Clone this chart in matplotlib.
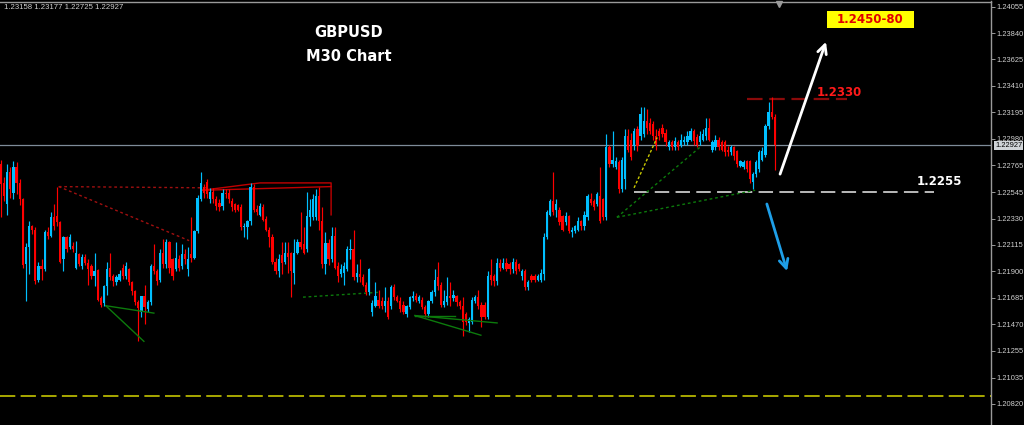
import numpy as np
import matplotlib.pyplot as plt
from matplotlib.patches import Rectangle
from matplotlib.transforms import blended_transform_factory

# === GBPUSD M30 candles ===
opens = [
    1.2277, 1.2262, 1.2245, 1.2271, 1.2254, 1.2275, 1.2262, 1.2249, 1.2196, 1.2210,
    1.2227, 1.2224, 1.2183, 1.2194, 1.2192, 1.2222, 1.2219, 1.2234, 1.2235, 1.2230,
    1.2200, 1.2218, 1.2210, 1.2211, 1.2193, 1.2204, 1.2194, 1.2202, 1.2197, 1.2194,
    1.2186, 1.2191, 1.2168, 1.2164, 1.2178, 1.2193, 1.2186, 1.2181, 1.2183, 1.2193,
    1.2186, 1.2192, 1.2181, 1.2174, 1.2165, 1.2157, 1.2170, 1.2159, 1.2165, 1.2194,
    1.2190, 1.2183, 1.2205, 1.2196, 1.2214, 1.2200, 1.2192, 1.2200, 1.2194, 1.2204,
    1.2192, 1.2204, 1.2201, 1.2223, 1.2249, 1.2259, 1.2263, 1.2249, 1.2255, 1.2249,
    1.2246, 1.2243, 1.2254, 1.2254, 1.2247, 1.2245, 1.2244, 1.2242, 1.2226, 1.2226,
    1.2231, 1.2259, 1.2241, 1.2236, 1.2242, 1.2233, 1.2224, 1.2218, 1.2198, 1.2190,
    1.2203, 1.2198, 1.2205, 1.2205, 1.2189, 1.2205, 1.2214, 1.2212, 1.2208, 1.2234,
    1.2234, 1.2234, 1.2251, 1.2231, 1.2196, 1.2213, 1.2200, 1.2219, 1.2194, 1.2188,
    1.2189, 1.2192, 1.2207, 1.2208, 1.2185, 1.2188, 1.2185, 1.2179, 1.2173, 1.2157,
    1.2162, 1.2167, 1.2166, 1.2162, 1.2166, 1.2162, 1.2177, 1.2169, 1.2166, 1.2163,
    1.2155, 1.2161, 1.2168, 1.2170, 1.2166, 1.2167, 1.2161, 1.2155, 1.2166, 1.2173,
    1.2185, 1.2179, 1.2163, 1.2165, 1.2170, 1.2168, 1.2170, 1.2165, 1.2162, 1.2155,
    1.2148, 1.2149, 1.2166, 1.2169, 1.2163, 1.2163, 1.2153, 1.2187, 1.2186, 1.2182,
    1.2197, 1.2193, 1.2197, 1.2196, 1.2192, 1.2198, 1.2196, 1.2186, 1.2190, 1.2177,
    1.2186, 1.2186, 1.2183, 1.2183, 1.2188, 1.2218, 1.2236, 1.2247, 1.2240, 1.2240,
    1.2235, 1.2230, 1.2235, 1.2222, 1.2223, 1.2224, 1.2231, 1.2227, 1.2234, 1.2249,
    1.2247, 1.2245, 1.2251, 1.2249, 1.2234, 1.2291, 1.2277, 1.2275, 1.2279, 1.2257,
    1.2265, 1.2300, 1.2297, 1.2292, 1.2306, 1.2300, 1.2302, 1.2312, 1.2311, 1.2310,
    1.2300, 1.2304, 1.2307, 1.2303, 1.2291, 1.2295, 1.2291, 1.2295, 1.2293, 1.2295,
    1.2295, 1.2297, 1.2304, 1.2299, 1.2295, 1.2297, 1.2300, 1.2307, 1.2289, 1.2291,
    1.2297, 1.2295, 1.2295, 1.2289, 1.2287, 1.2291, 1.2288, 1.2276, 1.2275, 1.2280,
    1.2280, 1.2263, 1.2269, 1.2273, 1.2281, 1.2285, 1.2308, 1.2320, 1.23158,
]
highs = [
    1.2281, 1.2267, 1.2277, 1.2275, 1.2280, 1.2279, 1.2265, 1.2250, 1.2213, 1.2231,
    1.2228, 1.2226, 1.2198, 1.2200, 1.2224, 1.2226, 1.2238, 1.2245, 1.2259, 1.2231,
    1.2219, 1.2219, 1.2220, 1.2214, 1.2215, 1.2205, 1.2204, 1.2204, 1.2200, 1.2196,
    1.2205, 1.2192, 1.2170, 1.2179, 1.2198, 1.2205, 1.2188, 1.2187, 1.2191, 1.2196,
    1.2198, 1.2193, 1.2182, 1.2175, 1.2167, 1.2170, 1.2179, 1.2167, 1.2196, 1.2212,
    1.2192, 1.2208, 1.2216, 1.2216, 1.2215, 1.2201, 1.2214, 1.2203, 1.2212, 1.2208,
    1.2210, 1.2234, 1.2224, 1.2252, 1.2271, 1.2261, 1.2265, 1.2258, 1.2258, 1.2251,
    1.2249, 1.2257, 1.2257, 1.2257, 1.2250, 1.2246, 1.2245, 1.2245, 1.2229, 1.2232,
    1.2262, 1.2261, 1.2244, 1.2246, 1.2245, 1.2235, 1.2226, 1.2220, 1.2201, 1.2204,
    1.2214, 1.2214, 1.2214, 1.2206, 1.2216, 1.2216, 1.2238, 1.2226, 1.2255, 1.2249,
    1.2253, 1.2257, 1.2259, 1.2242, 1.2222, 1.2216, 1.2226, 1.2226, 1.2198, 1.2196,
    1.2198, 1.2211, 1.2216, 1.2224, 1.2196, 1.2200, 1.2188, 1.2181, 1.2193, 1.2167,
    1.2181, 1.2175, 1.2169, 1.2177, 1.2169, 1.2179, 1.2180, 1.2171, 1.2169, 1.2166,
    1.2163, 1.2170, 1.2174, 1.2172, 1.2171, 1.2169, 1.2163, 1.2167, 1.2175, 1.2192,
    1.2198, 1.2181, 1.2175, 1.2185, 1.2181, 1.2175, 1.2171, 1.2167, 1.2169, 1.2157,
    1.2153, 1.2169, 1.2171, 1.2175, 1.2165, 1.2165, 1.2190, 1.2200, 1.2188, 1.2201,
    1.2200, 1.2201, 1.2201, 1.2198, 1.2201, 1.2200, 1.2197, 1.2192, 1.2192, 1.2183,
    1.2188, 1.2188, 1.2188, 1.2192, 1.2221, 1.2240, 1.2249, 1.2271, 1.2249, 1.2242,
    1.2236, 1.2238, 1.2236, 1.2226, 1.2228, 1.2234, 1.2232, 1.2239, 1.2253, 1.2254,
    1.2249, 1.2255, 1.2275, 1.2250, 1.2302, 1.2293, 1.2304, 1.2283, 1.2281, 1.2283,
    1.2306, 1.2306, 1.2303, 1.2307, 1.2308, 1.2324, 1.2324, 1.2322, 1.2315, 1.2312,
    1.2306, 1.2307, 1.2310, 1.2306, 1.2297, 1.2297, 1.2299, 1.2297, 1.2302, 1.2300,
    1.2304, 1.2307, 1.2306, 1.2302, 1.2304, 1.2306, 1.2315, 1.2315, 1.2297, 1.2301,
    1.2299, 1.2297, 1.2297, 1.2292, 1.2293, 1.2292, 1.2289, 1.2281, 1.2281, 1.2281,
    1.2281, 1.2271, 1.2281, 1.2289, 1.2291, 1.2310, 1.2328, 1.2332, 1.23177,
]
lows = [
    1.2234, 1.2247, 1.2236, 1.2250, 1.2249, 1.2253, 1.2244, 1.2193, 1.2166, 1.2188,
    1.2220, 1.2180, 1.2181, 1.2183, 1.2190, 1.2216, 1.2218, 1.2224, 1.2227, 1.2197,
    1.2190, 1.2206, 1.2208, 1.2206, 1.2192, 1.2194, 1.2192, 1.2195, 1.2179, 1.2184,
    1.2178, 1.2166, 1.2161, 1.2162, 1.2171, 1.2183, 1.2178, 1.2179, 1.2182, 1.2184,
    1.2184, 1.2179, 1.2171, 1.2163, 1.2133, 1.2153, 1.2147, 1.2157, 1.2163, 1.2188,
    1.2179, 1.2181, 1.2193, 1.2193, 1.2189, 1.2183, 1.2190, 1.2190, 1.2192, 1.2196,
    1.2186, 1.2198, 1.2200, 1.2221, 1.2247, 1.2250, 1.2250, 1.2246, 1.2246, 1.2240,
    1.2239, 1.2240, 1.2250, 1.2246, 1.2239, 1.2238, 1.2239, 1.2224, 1.2218, 1.2216,
    1.2228, 1.2238, 1.2236, 1.2235, 1.2231, 1.2223, 1.2210, 1.2196, 1.2188, 1.2185,
    1.2188, 1.2196, 1.2189, 1.2169, 1.2180, 1.2204, 1.2208, 1.2204, 1.2206, 1.2227,
    1.2232, 1.2232, 1.2224, 1.2193, 1.2188, 1.2195, 1.2198, 1.2192, 1.2181, 1.2185,
    1.2179, 1.2190, 1.2200, 1.2183, 1.2181, 1.2181, 1.2178, 1.2171, 1.2171, 1.2154,
    1.2161, 1.2160, 1.2159, 1.2157, 1.2151, 1.2159, 1.2167, 1.2165, 1.2157, 1.2155,
    1.2153, 1.2159, 1.2166, 1.2165, 1.2164, 1.2159, 1.2153, 1.2153, 1.2164, 1.2170,
    1.2175, 1.2161, 1.2161, 1.2163, 1.2162, 1.2166, 1.2162, 1.2159, 1.2137, 1.2146,
    1.2141, 1.2147, 1.2164, 1.2159, 1.2145, 1.2151, 1.2151, 1.2179, 1.2178, 1.2179,
    1.2190, 1.2192, 1.2190, 1.2188, 1.2189, 1.2188, 1.2190, 1.2183, 1.2175, 1.2175,
    1.2181, 1.2181, 1.2182, 1.2181, 1.2183, 1.2216, 1.2235, 1.2236, 1.2234, 1.2228,
    1.2223, 1.2228, 1.2221, 1.2218, 1.2221, 1.2223, 1.2224, 1.2224, 1.2232, 1.2244,
    1.2240, 1.2243, 1.2229, 1.2232, 1.2232, 1.2275, 1.2275, 1.2273, 1.2254, 1.2255,
    1.2257, 1.2287, 1.2281, 1.2289, 1.2288, 1.2297, 1.2299, 1.2302, 1.2302, 1.2297,
    1.2289, 1.2297, 1.2299, 1.2292, 1.2289, 1.2289, 1.2289, 1.2289, 1.2291, 1.2293,
    1.2293, 1.2296, 1.2293, 1.2291, 1.2293, 1.2296, 1.2297, 1.2296, 1.2287, 1.2289,
    1.2289, 1.2288, 1.2284, 1.2284, 1.2285, 1.2281, 1.2275, 1.2275, 1.2273, 1.2271,
    1.2262, 1.2257, 1.2267, 1.2271, 1.2280, 1.2283, 1.2306, 1.2314, 1.22725,
]
closes = [
    1.2261, 1.2251, 1.2271, 1.2257, 1.2275, 1.2262, 1.2249, 1.2195, 1.2210, 1.2227,
    1.2224, 1.2182, 1.2194, 1.2192, 1.2222, 1.2219, 1.2234, 1.2227, 1.2230, 1.2198,
    1.2218, 1.2208, 1.2218, 1.2208, 1.2205, 1.2196, 1.2202, 1.2197, 1.2192, 1.2186,
    1.2190, 1.2167, 1.2163, 1.2178, 1.2192, 1.2185, 1.2182, 1.2185, 1.2188, 1.2186,
    1.2194, 1.2181, 1.2174, 1.2165, 1.2160, 1.2170, 1.2161, 1.2165, 1.2194, 1.2190,
    1.2182, 1.2205, 1.2196, 1.2214, 1.2193, 1.2186, 1.2201, 1.2193, 1.2204, 1.2200,
    1.2200, 1.2201, 1.2223, 1.2250, 1.2262, 1.2254, 1.2253, 1.2255, 1.2249, 1.2243,
    1.2242, 1.2254, 1.2253, 1.2249, 1.2242, 1.2240, 1.2240, 1.2226, 1.2227, 1.2231,
    1.2259, 1.2240, 1.2238, 1.2243, 1.2232, 1.2224, 1.2218, 1.2198, 1.2190, 1.2200,
    1.2197, 1.2205, 1.2202, 1.2190, 1.2205, 1.2214, 1.2210, 1.2205, 1.2235, 1.2240,
    1.2249, 1.2251, 1.2231, 1.2196, 1.2213, 1.2200, 1.2219, 1.2193, 1.2186, 1.2192,
    1.2194, 1.2208, 1.2208, 1.2185, 1.2189, 1.2185, 1.2179, 1.2173, 1.2192, 1.2164,
    1.2170, 1.2162, 1.2162, 1.2166, 1.2153, 1.2177, 1.2169, 1.2166, 1.2159, 1.2157,
    1.2162, 1.2169, 1.2170, 1.2167, 1.2169, 1.2161, 1.2155, 1.2166, 1.2173, 1.2183,
    1.2178, 1.2163, 1.2166, 1.2170, 1.2168, 1.2171, 1.2165, 1.2162, 1.2149, 1.2149,
    1.2151, 1.2167, 1.2169, 1.2162, 1.2153, 1.2153, 1.2186, 1.2183, 1.2182, 1.2197,
    1.2193, 1.2197, 1.2192, 1.2192, 1.2198, 1.2190, 1.2192, 1.2190, 1.2177, 1.2181,
    1.2183, 1.2183, 1.2186, 1.2189, 1.2218, 1.2238, 1.2247, 1.2238, 1.2245, 1.2230,
    1.2224, 1.2235, 1.2223, 1.2224, 1.2227, 1.2231, 1.2227, 1.2236, 1.2251, 1.2246,
    1.2242, 1.2253, 1.2231, 1.2234, 1.2291, 1.2277, 1.2281, 1.2280, 1.2257, 1.2281,
    1.2300, 1.2289, 1.2283, 1.2304, 1.2292, 1.2318, 1.2312, 1.2307, 1.2304, 1.2300,
    1.2293, 1.2300, 1.2302, 1.2295, 1.2295, 1.2291, 1.2296, 1.2291, 1.2297, 1.2297,
    1.2300, 1.2304, 1.2296, 1.2293, 1.2300, 1.2302, 1.2307, 1.2297, 1.2295, 1.2297,
    1.2291, 1.2289, 1.2287, 1.2287, 1.2291, 1.2284, 1.2277, 1.2280, 1.2279, 1.2273,
    1.2265, 1.2269, 1.2279, 1.2287, 1.2288, 1.2308, 1.2320, 1.2316, 1.22927,
]

price_ticks = [1.24055, 1.23840, 1.23625, 1.23410, 1.23195, 1.22980, 1.22765, 1.22545,
               1.22330, 1.22115, 1.21900, 1.21685, 1.21470, 1.21255, 1.21035, 1.20820]

# === Levels / analysis ===
resistance = 1.2330
support = 1.2255
lower_level = 1.20885
target_text = "1.2450-80"

# zigzag / pattern lines as (bar index, price)
red_dotted = [[(18.5, 1.2259), (66.0, 1.2258)], [(18.5, 1.2259), (60.3, 1.2215)]]
red_solid = [[(64.4, 1.2256), (83.0, 1.2262), (105.8, 1.2262), (105.8, 1.2236)],
             [(64.4, 1.2256), (105.8, 1.2259)]]
green_solid = [[(33.6, 1.2162), (45.8, 1.2133)], [(33.6, 1.2162), (49.0, 1.2156)],
               [(132.7, 1.2154), (145.5, 1.2154)], [(132.7, 1.2154), (153.8, 1.2138)],
               [(132.7, 1.2154), (159.0, 1.2148)]]
green_dotted = [[(96.8, 1.2169), (121.5, 1.2173)],
                [(197.4, 1.2234), (241.7, 1.2256)],
                [(197.4, 1.2234), (224.0, 1.2291)]]
yellow_dotted = [(202.9, 1.2258), (210.3, 1.2299)]

o = np.array(opens); h = np.array(highs); l = np.array(lows); c = np.array(closes)
idx = np.arange(len(o))
up = c >= o
colors = np.where(up, '#00BFFF', '#FF0000')

fig = plt.figure(figsize=(10.24, 4.25), dpi=100, facecolor='black')
ax = fig.add_axes([0, 0, 991 / 1024, 423.5 / 425])
ax.set_facecolor('black')
ax.set_xlim(-0.32, 317.3)
ax.set_ylim(1.20649, 1.24097)

# horizontal levels
ax.axhline(c[-1], color='#7F8C99', lw=0.9, zorder=1)
ax.axhline(lower_level, color='#D6D600', lw=1.1, dashes=(10, 3.5), zorder=1)
ax.hlines(support, 203, 299, colors='#C8C8C8', lw=1.3, linestyles=(0, (8, 3.5)), zorder=1)
ax.hlines(resistance, 239, 271, colors='#8B0A0A', lw=1.6, linestyles=(0, (7, 3)), zorder=1)

# candles
ax.vlines(idx, l, h, colors=colors, lw=0.85, zorder=3)
body = np.maximum(np.abs(c - o), 0.00002)
ax.bar(idx, body, bottom=np.minimum(o, c), width=0.72, color=colors, lw=0, zorder=3)

# pattern lines
for seg in red_dotted:
    xs, ys = zip(*seg)
    ax.plot(xs, ys, color='#A01010', lw=1.0, linestyle=(0, (2, 2)), zorder=2)
for seg in red_solid:
    xs, ys = zip(*seg)
    ax.plot(xs, ys, color='#C00000', lw=1.0, zorder=2)
for seg in green_solid:
    xs, ys = zip(*seg)
    ax.plot(xs, ys, color='#0C7A0C', lw=1.0, zorder=4)
for seg in green_dotted:
    xs, ys = zip(*seg)
    ax.plot(xs, ys, color='#0C7A0C', lw=1.0, linestyle=(0, (2, 2)), zorder=2)
xs, ys = zip(*yellow_dotted)
ax.plot(xs, ys, color='#C8C800', lw=1.0, linestyle=(0, (2, 1.5)), zorder=4)

# arrows
ax.annotate('', xy=(264.7, 1.2379), xytext=(249.4, 1.2267),
            arrowprops=dict(arrowstyle='->', color='white', lw=2, mutation_scale=16))
ax.annotate('', xy=(252.2, 1.2188), xytext=(245.2, 1.2247),
            arrowprops=dict(arrowstyle='->', color='#1E9FE8', lw=2, mutation_scale=16))

# axes styling
for side in ['left', 'bottom']:
    ax.spines[side].set_visible(False)
for side in ['top', 'right']:
    ax.spines[side].set_color('#9A9A9A')
    ax.spines[side].set_linewidth(1)
ax.set_xticks([])
ax.yaxis.tick_right()
ax.set_yticks(price_ticks)
ax.set_yticklabels([f"{t:.5f}" for t in price_ticks], family='Liberation Sans')
ax.tick_params(axis='y', colors='#9A9A9A', labelcolor='#D0D0D0', labelsize=5.4,
               length=3, width=0.7, pad=1.2)

tr = blended_transform_factory(ax.transAxes, ax.transData)
ax.text(1.004, c[-1], f"{c[-1]:.5f}", transform=tr, fontsize=5.4, color='black',
        family='Liberation Sans', va='center', ha='left', clip_on=False, zorder=6,
        bbox=dict(boxstyle='square,pad=0.12', fc='#D0D4D8', ec='none'))
trx = blended_transform_factory(ax.transData, ax.transAxes)
ax.plot([249.4], [0.995], marker='v', color='#9A9A9A', markersize=5, transform=trx, clip_on=False)

# texts
fig.text(0.004, 0.983, f"{o[-1]:.5f} {h[-1]:.5f} {l[-1]:.5f} {c[-1]:.5f}",
         fontsize=5.6, color='#D0D0D0', family='Liberation Sans', va='center', ha='left')
fig.text(0.3408, 0.9247, "GBPUSD", color='white', fontsize=10.5, weight='bold', ha='center', va='center')
fig.text(0.3408, 0.8659, "M30 Chart", color='white', fontsize=10.5, weight='bold', ha='center', va='center')
fig.text(0.8193, 0.7835, f"{resistance:.4f}", color='#FF1A1A', fontsize=8.5, weight='bold', ha='center', va='center')
fig.text(0.917, 0.5718, f"{support:.4f}", color='white', fontsize=8.5, weight='bold', ha='center', va='center')
fig.patches.append(Rectangle((827 / 1024, 1 - 28 / 425), 87 / 1024, 17 / 425,
                             transform=fig.transFigure, facecolor='#FFFF00', edgecolor='none', zorder=5))
fig.text(870.5 / 1024, 1 - 19.5 / 425, target_text, color='#E00000', fontsize=8.5, weight='bold',
         ha='center', va='center', zorder=6)

fig.savefig('out.png', dpi=100, facecolor='black')
